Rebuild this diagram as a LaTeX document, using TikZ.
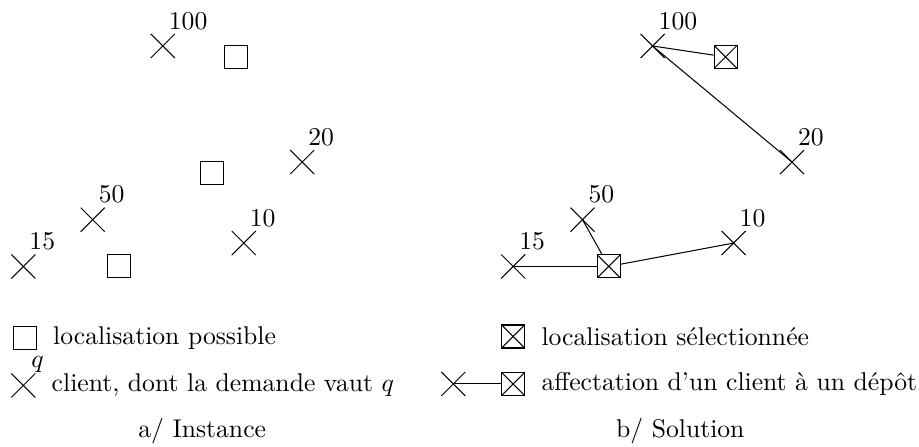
\documentclass[tikz,border=0pt]{standalone}
\usepackage{tikz}
\usetikzlibrary{
positioning,
shapes.misc
}

\begin{document}
\begin{tikzpicture}[
node distance=0.1cm,
client/.style={
draw,
cross out,
inner sep=0pt,
minimum size=0.315cm
},
site/.style={
draw,
rectangle,
inner sep=0pt,
minimum size=0.315cm
},
chosen/.style={
site,
path picture={
\draw (path picture bounding box.north west) -- (path picture bounding box.south east)
(path picture bounding box.south west) -- (path picture bounding box.north east);
}
},
lab/.style={inner sep=0pt,xshift=-2.5pt,yshift=1.5pt},
link/.style={thin}
]

\useasboundingbox (0,0) rectangle (12.59,6.12);

% a/ Instance
\node[client,label={[lab]north east:100}] (c100) at (2.23,5.49) {};
\node[site] (s1) at (3.23,5.34) {};
\node[client,label={[lab]north east:20}] (c20) at (4.14,3.90) {};
\node[site] (s2) at (2.90,3.75) {};
\node[client,label={[lab]north east:50}] (c50) at (1.27,3.11) {};
\node[client,label={[lab]north east:10}] (c10) at (3.34,2.79) {};
\node[client,label={[lab]north east:15}] (c15) at (0.32,2.47) {};
\node[site] (s3) at (1.63,2.47) {};

% b/ Solution
\node[client,label={[lab]north east:100}] (c100b) at (8.94,5.49) {};
\node[chosen] (s1b) at (9.94,5.34) {};
\node[client,label={[lab]north east:20}] (c20b) at (10.85,3.90) {};
\node[client,label={[lab]north east:50}] (c50b) at (7.98,3.11) {};
\node[client,label={[lab]north east:10}] (c10b) at (10.05,2.79) {};
\node[client,label={[lab]north east:15}] (c15b) at (7.03,2.47) {};
\node[chosen] (s3b) at (8.34,2.47) {};

\draw[link] (c100b.center) -- (s1b);
\draw[link] (c100b.center) -- (c20b.center);
\draw[link] (c50b.center) -- (s3b);
\draw[link] (c15b.center) -- (s3b);
\draw[link] (c10b.center) -- (s3b);

% legende
\node[site] (legsite) at (0.34,1.49) {};
\node[right=of legsite] (legsitetxt) {localisation possible};
\node[client,label={[inner sep=0pt,xshift=5.5pt,yshift=0.3pt]north:$q$}] (legclient) at (0.32,0.84) {};
\node[right=of legclient] (legclienttxt) {client, dont la demande vaut $q$};

\node[chosen] (legchosen) at (7.03,1.51) {};
\node[right=of legchosen] (legchosentxt) {localisation sélectionnée};
\node[client] (legaffc) at (6.21,0.86) {};
\node[chosen] (legaffs) at (7.03,0.86) {};
\draw[link] (legaffc.center) -- (legaffs);
\node[right=of legaffs] (legafftxt) {affectation d'un client à un dépôt};

\node (capa) at (2.77,0.21) {a/ Instance};
\node (capb) at (9.32,0.21) {b/ Solution};

\end{tikzpicture}
\end{document}
